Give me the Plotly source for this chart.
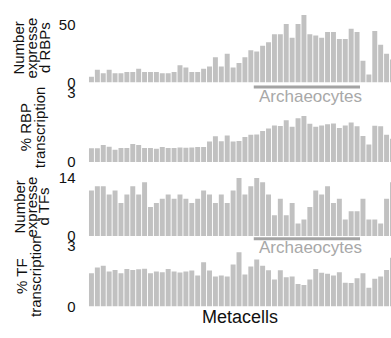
import plotly.graph_objects as go

W, H = 391, 338

n_rbp = [5, 11, 8, 11, 8, 8, 9, 9, 12, 9, 9, 9, 8, 8, 9, 15, 13, 9, 9, 12, 14, 22, 14, 25, 13, 17,
         22, 28, 27, 32, 35, 42, 42, 51, 39, 51, 59, 42, 41, 39, 44, 44, 38, 38, 47, 44, 19, 7, 45, 33, 25, 20]
pct_rbp = [0.59, 0.59, 0.73, 0.66, 0.53, 0.60, 0.60, 0.77, 0.73, 0.60, 0.60, 0.57, 0.64, 0.60, 0.60, 0.62, 0.61,
           0.62, 0.64, 0.64, 0.88, 1.11, 0.89, 1.14, 0.88, 0.90, 1.08, 1.17, 1.19, 1.34, 1.44, 1.58, 1.55, 1.80,
           1.52, 1.89, 1.99, 1.65, 1.52, 1.58, 1.63, 1.66, 1.47, 1.58, 1.71, 1.54, 1.12, 0.75, 1.56, 1.54, 1.18, 1.00]
n_tf = [11, 12, 12, 10, 11, 8, 10, 12, 10, 13, 7, 8, 9, 10, 9, 10, 9,
        8, 9, 11, 10, 8, 10, 8, 11, 14, 10, 12, 14, 13, 10, 5, 9, 5, 8, 3, 4, 7, 11, 10, 12, 8, 9, 4, 6, 6, 9, 4, 4, 3, 9, 13]
pct_tf = [1.64, 1.92, 2.00, 1.72, 1.80, 1.64, 1.84, 1.80, 1.83, 1.86, 1.63, 1.72, 1.69, 1.84, 1.72, 1.67, 1.72,
          1.77, 1.53, 2.17, 1.77, 1.47, 1.52, 1.47, 2.06, 2.67, 1.58, 1.97, 2.31, 2.00, 1.78, 1.33, 1.78, 1.44,
          1.47, 1.11, 1.06, 1.33, 1.84, 1.66, 1.61, 1.52, 1.69, 1.17, 1.16, 1.39, 1.64, 0.92, 1.36, 1.47, 1.80, 2.40]
metacells = list(range(len(n_rbp)))

panels = [
    dict(vals=n_rbp, ymax=60, ticks=[0, 50], title=["Number", "expresse", "d RBPs"]),
    dict(vals=pct_rbp, ymax=3, ticks=[0, 3], title=["% RBP", "transcription"]),
    dict(vals=n_tf, ymax=14, ticks=[0, 14], title=["Number", "expresse", "d TFs"]),
    dict(vals=pct_tf, ymax=3, ticks=[0, 3], title=["% TF", "transcription"]),
]
group_label = "Archaeocytes"
arch_start, arch_end = 28, 45
x_label = "Metacells"

FONT = "Liberation Sans, Arial, sans-serif"
GRAY = "#c1c1c1"

# pixel layout
plot_left = 88.5
panel_px = [(5, 77.3), (88, 161), (178, 239), (249, 313.3)]
title_x = [[18.5, 31.5, 44], [25, 39], [19.5, 31.5, 43.5], [21, 35]]
arch_line_y = [82, 242]
arch_text_y = [92, 251]


def py(p):
    return 1 - p / H


fig = go.Figure()
layout = dict(
    width=W, height=H, margin=dict(l=0, r=0, t=0, b=0),
    paper_bgcolor="white", plot_bgcolor="white",
    showlegend=False, bargap=0.15,
    font=dict(family=FONT, color="#111111", size=14),
)
annotations = []
shapes = []
for i, p in enumerate(panels):
    k = "" if i == 0 else str(i + 1)
    fig.add_trace(go.Bar(x=metacells, y=p["vals"], marker=dict(color=GRAY, line=dict(width=0)),
                         xaxis="x" + k, yaxis="y" + k, width=0.84))
    top, bot = panel_px[i]
    layout["xaxis" + k] = dict(domain=[plot_left / W, 1], anchor="y" + k, range=[-0.5, 50.75],
                               showticklabels=False, showgrid=False, zeroline=False, ticks="",
                               showline=False)
    layout["yaxis" + k] = dict(domain=[py(bot), py(top)], anchor="x" + k, range=[0, p["ymax"]],
                               tickvals=p["ticks"], ticks="", showgrid=False, zeroline=False,
                               showline=False, ticklabelstandoff=12,
                               tickfont=dict(size=15, color="#111111", family=FONT))
    cy = (top + bot) / 2
    for txt, tx in zip(p["title"], title_x[i]):
        annotations.append(dict(text=txt, xref="paper", yref="paper", x=tx / W, y=py(cy),
                                xanchor="center", yanchor="middle", textangle=-90, showarrow=False,
                                font=dict(size=15, color="#111111", family=FONT)))

for j, (ax, ay) in enumerate([("x", 0), ("x3", 1)]):
    shapes.append(dict(type="line", xref=ax, yref="paper", x0=arch_start - 0.5, x1=arch_end + 0.5,
                       y0=py(arch_line_y[ay]), y1=py(arch_line_y[ay]),
                       line=dict(color="#a4a4a4", width=3)))
    annotations.append(dict(text=group_label, xref=ax, yref="paper", x=(arch_start + arch_end) / 2,
                            y=py(arch_text_y[ay]), xanchor="center", yanchor="middle", xshift=4,
                            showarrow=False, font=dict(size=17, color="#a8a8a8", family=FONT)))

annotations.append(dict(text=x_label, xref="paper", yref="paper", x=(plot_left + W) / 2 / W, y=py(324),
                        xanchor="center", yanchor="middle", showarrow=False,
                        font=dict(size=18, color="#111111", family=FONT)))
layout["annotations"] = annotations
layout["shapes"] = shapes
fig.update_layout(**layout)
fig.write_html("out.html")
